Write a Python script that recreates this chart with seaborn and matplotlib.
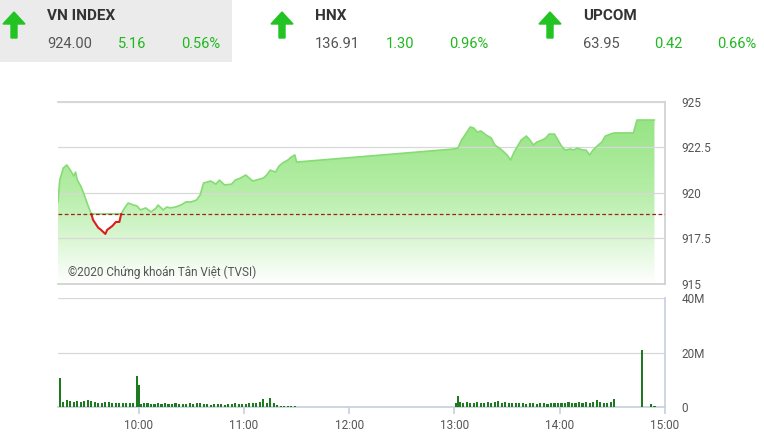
import numpy as np
import pandas as pd
import matplotlib
matplotlib.use("Agg")
import matplotlib.pyplot as plt
import seaborn as sns
from matplotlib.patches import Rectangle, FancyArrow
from matplotlib.colors import LinearSegmentedColormap

sns.set_theme(style="white")
plt.rcParams['font.family'] = ['Roboto', 'DejaVu Sans']

# ---- data (minutes since 09:00) ----
ref_price = 918.85
price_min = [14, 15, 17, 19, 21, 23, 24, 25, 27, 29, 31, 33, 34, 37, 38, 41, 42, 45, 47, 49, 50, 52, 54, 57, 59,
             61, 64, 67, 70, 71, 74, 76, 78, 81, 84, 87, 90, 93, 95, 97, 99, 101, 104, 106, 109, 113, 115, 118,
             121, 123, 125, 127, 131, 133, 135, 138, 140, 142, 145, 147, 149, 150,
             240, 242, 244, 246, 249, 251, 253, 255, 258, 261, 263, 267, 270, 272, 274, 276, 278, 281, 283, 285,
             287, 290, 292, 294, 297, 299, 301, 303, 306, 308, 310, 313, 315, 317, 319, 322, 324, 326, 329, 331,
             335, 340, 342, 344, 347, 354]
price_val = [919.51, 920.71, 921.37, 921.54, 921.26, 920.93, 921.15, 920.71, 920.38, 919.89, 919.34, 918.85,
             918.52, 918.08, 918.02, 917.75, 917.97, 918.19, 918.41, 918.41, 918.85, 919.18, 919.45, 919.34,
             919.29, 919.07, 919.18, 918.96, 919.18, 919.34, 919.07, 919.23, 919.18, 919.23, 919.34, 919.51,
             919.51, 919.62, 919.89, 920.55, 920.60, 920.66, 920.49, 920.71, 920.44, 920.49, 920.71, 920.82,
             920.99, 920.82, 920.66, 920.71, 920.82, 920.99, 921.26, 921.15, 921.48, 921.65, 921.81, 921.98,
             922.09, 921.70,
             922.42, 922.47, 922.91, 923.19, 923.63, 923.57, 923.35, 923.41, 923.19, 923.02, 922.64, 922.36,
             922.09, 921.81, 922.25, 922.58, 922.91, 923.13, 922.91, 922.64, 922.80, 922.91, 923.02, 923.24,
             923.24, 922.91, 922.58, 922.36, 922.42, 922.36, 922.47, 922.36, 922.36, 922.09, 922.36, 922.64,
             922.80, 923.13, 923.24, 923.30, 923.30, 923.30, 923.30, 924.01, 924.01, 924.01]

vol_morning_min = list(range(15, 153, 2))
vol_morning = [10.5, 1.8, 2.4, 2.2, 2.0, 2.3, 1.9, 2.1, 2.4, 2.2, 1.8, 1.6, 1.5, 1.7, 1.8, 1.6, 1.4, 1.6, 1.5, 1.3,
               1.5, 1.3, 11.5, 1.2, 1.5, 1.3, 1.1, 1.2, 1.4, 1.1, 1.3, 1.2, 1.0, 1.3, 1.2, 1.1, 1.2, 1.3,
               1.2, 1.4, 1.3, 1.1, 1.0, 0.9, 1.2, 1.1, 1.0, 0.9, 1.0, 1.1, 1.5, 1.0, 1.2, 1.1, 1.3, 1.4,
               1.6, 2.0, 2.8, 1.6, 3.2, 1.3, 0.6, 0.4, 0.3, 0.2, 0.2, 0.2, 0.1]
vol_extra_min = [60, 242]
vol_extra = [8.0, 4.0]
vol_afternoon_min = list(range(241, 333, 2))
vol_afternoon = [1.5, 1.8, 1.4, 1.9, 1.6, 1.5, 1.7, 1.4, 1.6, 1.8, 1.5, 1.7, 2.1, 1.6, 1.8, 1.5, 1.6, 1.4,
                 1.3, 1.5, 1.2, 1.3, 1.4, 1.2, 1.3, 1.5, 1.2, 1.4, 1.3, 1.6, 1.4, 1.5, 1.7, 1.3, 1.6, 1.8,
                 1.5, 1.9, 1.6, 1.7, 2.6, 1.8, 1.6, 1.5, 1.9, 3.0]
vol_atc_min = [347, 352, 354]
vol_atc = [21.0, 1.2, 0.3]

tick_min = [60, 120, 180, 240, 300, 360]
tick_lab = ["10:00", "11:00", "12:00", "13:00", "14:00", "15:00"]
price_ticks = [915, 917.5, 920, 922.5, 925]
price_tick_lab = ["915", "917.5", "920", "922.5", "925"]
vol_ticks = [0, 20, 40]
vol_tick_lab = ["0", "20M", "40M"]

hdr_names = ["VN INDEX", "HNX", "UPCOM"]
hdr_val = ["924.00", "136.91", "63.95"]
hdr_chg = ["5.16", "1.30", "0.42"]
hdr_pct = ["0.56%", "0.96%", "0.66%"]

# ---- figure ----
W, H = 764, 442
fig = plt.figure(figsize=(W / 100, H / 100), dpi=100)
fig.patch.set_facecolor("white")

fig.patches.append(Rectangle((0, 1 - 62 / H), 232 / W, 62 / H, transform=fig.transFigure,
                             facecolor="#ebebeb", edgecolor="none", zorder=0))
green = "#1fb81f"
for i, name in enumerate(hdr_names):
    x0 = [0, 268, 536][i]
    fig.patches.append(FancyArrow((x0 + 14) / W, 1 - 38 / H, 0, 26 / H, width=6 / W,
                                  head_width=22 / W, head_length=12 / H, length_includes_head=True,
                                  transform=fig.transFigure, color="#22c322", zorder=3))
    fig.text((x0 + 47) / W, 1 - 16 / H, name, fontsize=11, fontweight="bold", color="#333333", va="center")
    fig.text((x0 + 47) / W, 1 - 44 / H, hdr_val[i], fontsize=10.5, color="#555555", va="center")
    fig.text((x0 + 118) / W, 1 - 44 / H, hdr_chg[i], fontsize=10.5, color=green, va="center")
    fig.text((x0 + 220) / W, 1 - 44 / H, hdr_pct[i], fontsize=10.5, color=green, va="center", ha="right")

# price axes
ax = fig.add_axes([58 / W, 1 - 284 / H, (665 - 58) / W, (284 - 102) / H])
df = pd.DataFrame({"t": price_min, "p": price_val})
t = df["t"].to_numpy(float)
p = df["p"].to_numpy(float)
ax.set_xlim(14, 360)
ax.set_ylim(915, 925)

grad = np.linspace(0, 1, 256).reshape(-1, 1)
cmap = LinearSegmentedColormap.from_list("g", ["#ffffff", "#b6eea8", "#8fe27c"])
img = ax.imshow(grad, extent=[14, 360, 915, 925], origin="lower", aspect="auto", cmap=cmap, zorder=1)
poly = ax.fill_between(t, 915, p, color="none", lw=0)
img.set_clip_path(poly.get_paths()[0], ax.transData)
ax.fill_between(t, p, ref_price, where=p < ref_price, interpolate=True, color="white", zorder=1.5, lw=0)

above = np.where(p >= ref_price - 1e-9, p, np.nan)
below = np.where(p <= ref_price + 1e-9, p, np.nan)
sns.lineplot(x=t, y=above, ax=ax, color="#86dc74", lw=1.2, zorder=3, estimator=None, sort=False)
sns.lineplot(x=t, y=below, ax=ax, color="#dd1c1c", lw=1.5, zorder=4, estimator=None, sort=False)
ax.axhline(ref_price, color="#a0221e", lw=0.9, ls=(0, (3, 2)), zorder=5)

ax.set_yticks(price_ticks)
ax.set_yticklabels(price_tick_lab)
ax.yaxis.tick_right()
ax.set_xticks(tick_min)
ax.tick_params(axis="x", labelbottom=False, length=0)
ax.tick_params(axis="y", length=0, labelsize=8.5, labelcolor="#555555", pad=12)
ax.grid(axis="y", color="#d8d8d8", lw=0.9)
ax.set_axisbelow(False)
for s in ["top", "right", "bottom"]:
    ax.spines[s].set_color("#d0d0d0")
ax.spines["left"].set_visible(False)
ax.text(10 / 607, 8 / 182, "©2020 Chứng khoán Tân Việt (TVSI)", transform=ax.transAxes,
        fontsize=8.5, color="#555555", zorder=6)

# volume axes
av = fig.add_axes([58 / W, 1 - 407 / H, (665 - 58) / W, (407 - 298) / H])
vm = vol_morning_min + vol_extra_min + vol_afternoon_min + vol_atc_min
vv = vol_morning + vol_extra + vol_afternoon + vol_atc
av.bar(vm, vv, width=1.2, color="#1e7a1e", lw=0, antialiased=False, zorder=3)
av.set_xlim(14, 360)
av.set_ylim(0, 40)
av.set_yticks(vol_ticks)
av.set_yticklabels(vol_tick_lab)
av.yaxis.tick_right()
av.set_xticks(tick_min)
av.set_xticklabels(tick_lab)
av.tick_params(axis="x", length=5, color="#c8d0e0", labelsize=8.5, labelcolor="#555555", bottom=True)
av.tick_params(axis="y", length=0, labelsize=8.5, labelcolor="#555555", pad=12)
av.grid(axis="y", color="#d8d8d8", lw=0.9)
av.spines["top"].set_visible(False)
av.spines["left"].set_visible(False)
av.spines["right"].set_color("#c8d0e0")
av.spines["bottom"].set_color("#c8d0e0")

fig.savefig("out.png", dpi=100)
